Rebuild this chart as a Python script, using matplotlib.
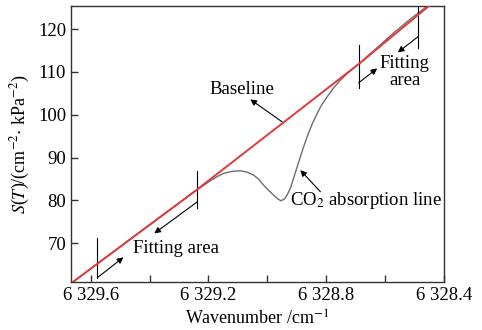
import matplotlib
matplotlib.use("Agg")
import matplotlib.pyplot as plt

plt.rcParams["font.family"] = ["Liberation Serif", "DejaVu Serif"]
plt.rcParams["mathtext.fontset"] = "stix"

# Baseline (red)
base_x = [6329.66, 6329.24, 6328.956, 6328.687, 6328.452]
base_y = [61.0, 82.5, 97.65, 112.0, 125.37]

# CO2 absorption spectrum (gray)
spec_x = [6329.66, 6329.45, 6329.2395, 6329.215, 6329.194, 6329.17, 6329.149,
          6329.12, 6329.092, 6329.07, 6329.047, 6329.03, 6329.013, 6328.995,
          6328.979, 6328.965, 6328.954, 6328.943, 6328.933, 6328.922, 6328.911,
          6328.90, 6328.888, 6328.876, 6328.865, 6328.848, 6328.831, 6328.815,
          6328.797, 6328.775, 6328.752, 6328.72, 6328.687, 6328.65, 6328.62,
          6328.57, 6328.51, 6328.457]
spec_y = [61.0, 71.8, 82.44, 83.6, 84.61, 85.6, 86.33,
          86.8, 86.94, 86.65, 85.94, 85.0, 83.60, 82.3,
          81.27, 80.4, 79.94, 80.3, 81.27, 82.83, 85.17,
          87.6, 90.21, 92.7, 94.87, 97.8, 100.33, 102.4,
          104.20, 106.3, 108.10, 110.2, 112.0, 114.3, 116.1,
          119.2, 122.6, 125.37]

xticks = [6329.6, 6329.2, 6328.8, 6328.4]
xtick_labels = ["6 329.6", "6 329.2", "6 328.8", "6 328.4"]
xminor = [6329.4, 6329.0, 6328.6]
yticks = [70, 80, 90, 100, 110, 120]

fig = plt.figure(figsize=(4.82, 3.30), dpi=100)
ax = fig.add_axes([0.1473, 0.1445, 0.7739, 0.8373])

ax.plot(spec_x, spec_y, color="#6e6e6e", lw=1.0, zorder=2)
ax.plot(base_x, base_y, color="#e03a3a", lw=1.4, zorder=3)

ax.set_xlim(6329.667, 6328.4)
ax.set_ylim(60.9, 125.4)

ax.set_xticks(xticks)
ax.set_xticklabels(xtick_labels)
ax.set_xticks(xminor, minor=True)
ax.set_yticks(yticks)
ax.tick_params(axis="both", which="both", direction="in", length=5, width=1,
               labelsize=13.5, color="#333333")
for sp in ax.spines.values():
    sp.set_color("#333333")
    sp.set_linewidth(1.0)

ax.set_xlabel("Wavenumber /cm$^{-1}$", fontsize=13, labelpad=4)
ax.set_ylabel("$S$($T$)/(cm$^{-2}$$\\cdot$ kPa$^{-2}$)", fontsize=13, labelpad=4)

arrow = dict(arrowstyle="-|>", color="k", lw=0.8, mutation_scale=9,
             shrinkA=0, shrinkB=0)

# Fitting area marks, lower left
ax.plot([6329.5776, 6329.5776], [61.97, 71.17], color="k", lw=0.8)
ax.plot([6329.2374, 6329.2374], [78.17, 86.94], color="k", lw=0.8)
ax.annotate("", xy=(6329.489, 66.73), xytext=(6329.5776, 61.97), arrowprops=arrow)
ax.annotate("", xy=(6329.384, 72.33), xytext=(6329.2374, 79.71), arrowprops=arrow)
ax.text(6329.31, 68.9, "Fitting area", fontsize=13.5, ha="center", va="center")

# Fitting area marks, upper right
ax.plot([6328.690, 6328.690], [106.16, 116.27], color="k", lw=0.8)
ax.plot([6328.489, 6328.489], [115.5, 125.4], color="k", lw=0.8)
ax.annotate("", xy=(6328.627, 110.83), xytext=(6328.690, 107.47), arrowprops=arrow)
ax.annotate("", xy=(6328.557, 114.56), xytext=(6328.489, 118.2), arrowprops=arrow)
ax.text(6328.534, 109.97, "Fitting\narea", fontsize=13.5, ha="center", va="center",
        linespacing=0.95)

# Baseline label
ax.annotate("", xy=(6329.058, 103.6), xytext=(6328.950, 98.37), arrowprops=arrow)
ax.text(6329.086, 105.88, "Baseline", fontsize=13.5, ha="center", va="center")

# CO2 absorption line label
ax.annotate("", xy=(6328.888, 87.1), xytext=(6328.820, 82.04), arrowprops=arrow)
ax.text(6328.664, 80.1, "CO$_2$ absorption line", fontsize=13.5, ha="center", va="center")

fig.savefig("out.png", dpi=100)
